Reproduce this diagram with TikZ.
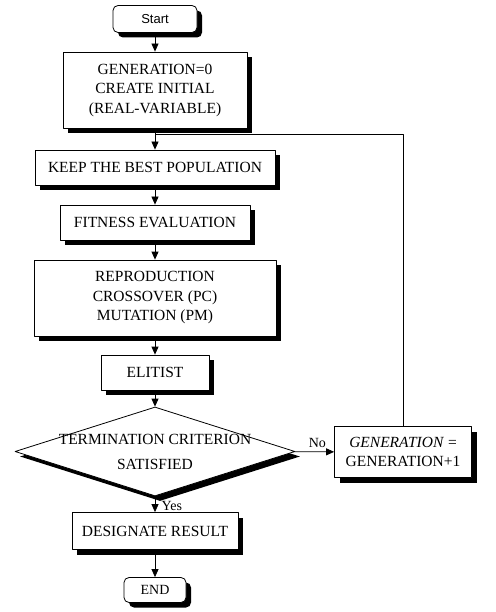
\documentclass[tikz,border=0pt]{standalone}
\usepackage{fontspec}
\setmainfont{Liberation Serif}
\newfontfamily\startfont{Liberation Sans}
\usetikzlibrary{shapes.geometric,shadows,arrows.meta}
\begin{document}
\begin{tikzpicture}[x=1pt,y=-1pt,>={Triangle[length=8pt,width=7pt]},line join=round,font=\fontsize{15.5}{19.5}\selectfont,
	box/.style={draw,line width=0.8pt,fill=white,align=center,inner sep=0pt,drop shadow={shadow xshift=5pt,shadow yshift=-5pt,fill=black,opacity=1}},
	terminal/.style={box,rounded corners=5pt},
	decision/.style={box,diamond,minimum width=280pt,minimum height=89pt},
	flow/.style={->,line width=0.8pt}]
	\useasboundingbox (0,0) rectangle (495,612);
	\node[terminal,minimum width=84pt,minimum height=27pt,font=\startfont\fontsize{13}{15}\selectfont] (start) at (155,19) {Start};
	\node[box,minimum width=184pt,minimum height=76pt] (init) at (155,90) {GENERATION=0\\CREATE INITIAL\\(REAL-VARIABLE)};
	\node[box,minimum width=240pt,minimum height=35pt] (keep) at (155,167.5) {KEEP THE BEST POPULATION};
	\node[box,minimum width=190pt,minimum height=35pt] (fit) at (155,222.5) {FITNESS EVALUATION};
	\node[box,minimum width=242pt,minimum height=76pt] (repro) at (155,298) {REPRODUCTION\\CROSSOVER (PC)\\MUTATION (PM)};
	\node[box,minimum width=108pt,minimum height=35pt] (elit) at (155,372.5) {ELITIST};
	\node[decision,label={[align=center,font=\fontsize{15.5}{25}\selectfont]center:TERMINATION CRITERION\\SATISFIED}] (crit) at (155,451.5) {};
	\node[box,minimum width=137pt,minimum height=51pt] (gen) at (403,452) {\textit{GENERATION} =\\GENERATION+1};
	\node[box,minimum width=166pt,minimum height=37pt] (res) at (155,531) {DESIGNATE RESULT};
	\node[terminal,minimum width=62pt,minimum height=25pt,font=\fontsize{14}{16}\selectfont] (end) at (155,590) {END};
	\foreach \a/\b in {start/init,init/keep,keep/fit,fit/repro,repro/elit,elit/crit,res/end} \draw[flow] (\a) -- (\b);
	\draw[flow] (crit) -- node[right,pos=0.6,xshift=3pt,font=\fontsize{14}{16}\selectfont]{Yes} (res);
	\draw[flow] (crit) -- node[above,xshift=3pt,font=\fontsize{14}{16}\selectfont]{No} (gen);
	\coordinate (join) at (155,134);
	\draw[line width=0.8pt] (gen) |- (join);
\end{tikzpicture}
\end{document}
